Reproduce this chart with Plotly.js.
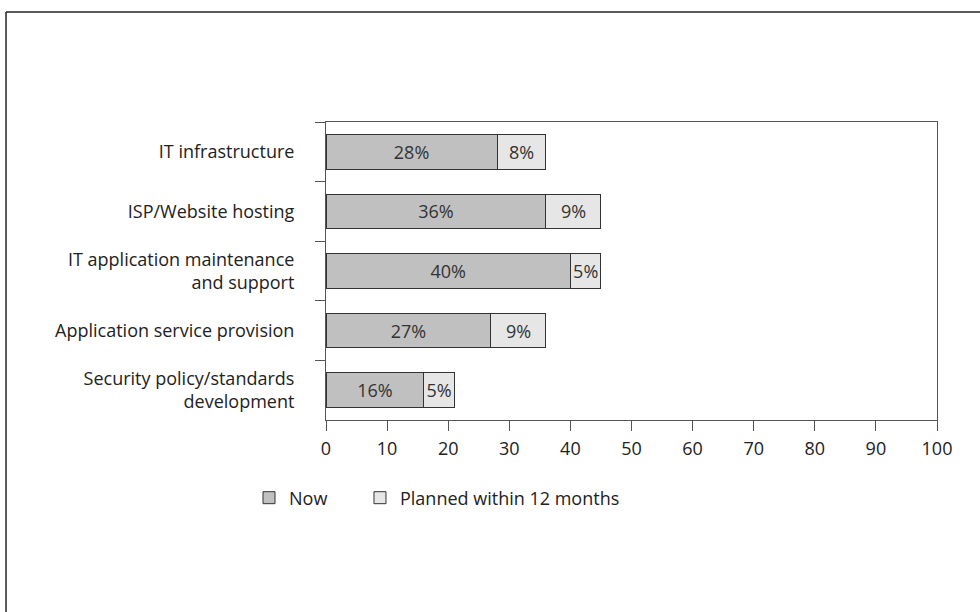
<!DOCTYPE html>
<html>
<head>
<meta charset="utf-8">
<script src="https://cdn.plot.ly/plotly-3.0.1.min.js"></script>
<style>html,body{margin:0;padding:0;background:#fff;}#chart{width:980px;height:612px;}</style>
</head>
<body>
<div id="chart"></div>
<script>
var categories = ["IT infrastructure", "ISP/Website hosting", "IT application maintenance<br>and support", "Application service provision", "Security policy/standards<br>development"];
var nowValues = [28, 36, 40, 27, 16];
var plannedValues = [8, 9, 5, 9, 5];
var seriesNames = ["Now", "Planned within 12 months"];
var xTicks = [0, 10, 20, 30, 40, 50, 60, 70, 80, 90, 100];

var FONT = "Open Sans, Liberation Sans, Arial, sans-serif";
var FS = 18;
var common = {
  type: "bar", orientation: "h", y: categories,
  textposition: "inside", insidetextanchor: "middle", textangle: 0,
  constraintext: "none", cliponaxis: false,
  insidetextfont: {family: FONT, size: FS, color: "#333"},
  hoverinfo: "none"
};
var traces = [
  Object.assign({}, common, {
    name: seriesNames[0], x: nowValues, legend: "legend",
    text: nowValues.map(function(v){return v + "%";}),
    marker: {color: "#c0c0c0", line: {color: "#333", width: 1}}
  }),
  Object.assign({}, common, {
    name: seriesNames[1], x: plannedValues, legend: "legend2",
    text: plannedValues.map(function(v){return v + "%";}),
    marker: {color: "#e6e6e6", line: {color: "#333", width: 1}}
  })
];

var legendBase = {orientation: "h", xanchor: "left", y: -0.2617, yanchor: "middle",
                  font: {family: FONT, size: FS, color: "#222"}, bgcolor: "rgba(0,0,0,0)"};
var layout = {
  width: 980, height: 612,
  paper_bgcolor: "#fff", plot_bgcolor: "#fff",
  margin: {l: 326, r: 43, t: 122, b: 192},
  barmode: "stack", bargap: 0.42,
  font: {family: FONT, size: FS, color: "#222"},
  showlegend: true,
  legend: Object.assign({}, legendBase, {x: -0.126}),
  legend2: Object.assign({}, legendBase, {x: 0.0556}),
  xaxis: {range: [0, 100], tickvals: xTicks, ticktext: xTicks.map(String),
          showgrid: false, zeroline: false, showline: true, mirror: true,
          linecolor: "#555", linewidth: 1, ticks: "outside", ticklen: 10,
          tickcolor: "#555", ticklabelstandoff: 2,
          tickfont: {family: FONT, size: FS, color: "#222"}, fixedrange: true},
  yaxis: {autorange: "reversed", type: "category", tickson: "boundaries",
          showgrid: false, zeroline: false, showline: true, mirror: true,
          linecolor: "#555", linewidth: 1, ticks: "outside", ticklen: 10,
          tickcolor: "#555", ticklabelstandoff: 27,
          tickfont: {family: FONT, size: FS, color: "#222"}, fixedrange: true},
  shapes: [
    {type: "line", xref: "paper", yref: "paper", x0: -0.5237, x1: 1.1, y0: 1.369, y1: 1.369,
     line: {color: "#222", width: 1.5}},
    {type: "line", xref: "paper", yref: "paper", x0: -0.5237, x1: -0.5237, y0: 1.369, y1: -0.7,
     line: {color: "#222", width: 1.5}}
  ]
};
Plotly.newPlot("chart", traces, layout, {displayModeBar: false, staticPlot: true});
</script>
</body>
</html>
